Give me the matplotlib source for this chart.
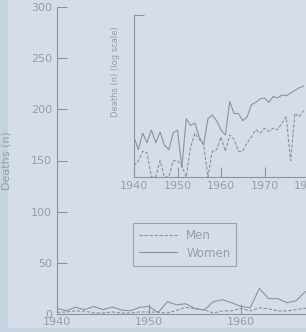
import matplotlib
matplotlib.use("Agg")
import matplotlib.pyplot as plt
from matplotlib.patches import Rectangle
import numpy as np

years = list(range(1940, 1980))
women = [5.5, 3.2, 6.5, 4.3, 7.4, 4.3, 6.8, 3.9, 3.2, 6.5,
         7.4, 1.5, 12, 9, 10, 5.5, 3.9, 12, 14, 11,
         7.4, 6, 25, 15, 15, 11, 13, 22, 24, 28,
         29, 24, 31, 29, 33, 32, 36, 40, 45, 48]
men = [1.6, 2, 3, 2.8, 1, 1, 2, 1, 1, 2,
       2, 1.6, 1, 3.5, 6.5, 5, 4, 1, 3, 3.2,
       5.5, 3, 6, 5, 3, 3, 4.3, 5.5, 7.5, 6.5,
       8, 7, 8, 7.5, 10, 13, 2, 15, 13, 17]

main_yticks = [0, 50, 100, 150, 200, 250, 300]
main_xticks = [1940, 1950, 1960, 1970, 1980]
inset_xticks = [1940, 1950, 1960, 1970, 1980]

BG = "#d5dee8"
STRIP = "#c5d2e0"
FG = "#8d939b"
TXT = "#979ea7"

W, H = 306, 332
fig = plt.figure(figsize=(W / 100, H / 100), dpi=100, facecolor=BG)
plt.rcParams['font.family'] = ['DejaVu Sans']

def ax_rect(left, top, right, bottom):
    return [left / W, 1 - bottom / H, (right - left) / W, (bottom - top) / H]

# main axes
ax = fig.add_axes(ax_rect(57, 7, 57 + 45 * 9.2, 314))
ax.set_facecolor("none")
ax.plot(years, men, color=FG, lw=0.8, ls=(0, (3, 1.5)), label="Men")
ax.plot(years, women, color=FG, lw=0.8, ls="-", label="Women")
ax.set_xlim(1940, 1985)
ax.set_ylim(0, 300)
ax.set_yticks(main_yticks)
ax.set_xticks(main_xticks)
for s in ["top", "right"]:
    ax.spines[s].set_visible(False)
for s in ["left", "bottom"]:
    ax.spines[s].set_color(FG)
    ax.spines[s].set_linewidth(0.8)
ax.tick_params(direction="in", length=7, width=0.8, color=FG, labelcolor=TXT,
               labelsize=8)
ax.tick_params(axis="y", pad=3.5)
ax.tick_params(axis="x", pad=2)
ax.set_ylabel("Deaths (n)", color=TXT, fontsize=8)
ax.yaxis.set_label_coords((12 - 57) / (45 * 9.2), 0.5)

leg = ax.legend(loc="upper left", bbox_to_anchor=((133 - 57) / (45 * 9.2), (314 - 223) / 307),
                frameon=True, fancybox=False, fontsize=8.5, handlelength=3.2,
                borderpad=0.5, labelspacing=0.4, handletextpad=0.8, borderaxespad=0)
leg.get_frame().set_edgecolor(FG)
leg.get_frame().set_facecolor("none")
leg.get_frame().set_linewidth(0.8)
for t in leg.get_texts():
    t.set_color(TXT)

# inset axes
ix = fig.add_axes(ax_rect(134, 15, 134 + 45 * 4.35, 177))
ix.set_facecolor("none")
ix.plot(years, men, color=FG, lw=0.8, ls=(0, (3, 1.5)))
ix.plot(years, women, color=FG, lw=0.8, ls="-")
ix.set_yscale("log")
ix.set_ylim(1, 1000)
ix.set_xlim(1940, 1985)
ix.set_xticks(inset_xticks)
ix.set_yticks([1000])
ix.yaxis.set_minor_locator(matplotlib.ticker.NullLocator())
ix.set_yticklabels([])
for s in ["top", "right"]:
    ix.spines[s].set_visible(False)
for s in ["left", "bottom"]:
    ix.spines[s].set_color(FG)
    ix.spines[s].set_linewidth(0.8)
ix.tick_params(direction="in", length=7, width=0.8, color=FG, labelcolor=TXT,
               labelsize=8)
ix.tick_params(axis="x", pad=3)
ix.set_ylabel("Deaths (n) (log scale)", color=TXT, fontsize=6)
ix.yaxis.set_label_coords((120 - 134) / (45 * 4.35), (177 - 72) / 162)

# frame strips of the page
fig.patches.append(Rectangle((0, 0), 7 / W, 1, transform=fig.transFigure,
                             color=STRIP, zorder=-1))
fig.patches.append(Rectangle((0, 0), 1, 4 / H, transform=fig.transFigure,
                             color=STRIP, zorder=-1))

fig.savefig("out.png", dpi=100, facecolor=BG)
